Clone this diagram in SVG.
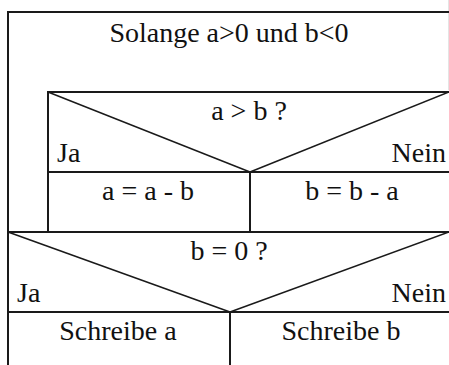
<svg xmlns="http://www.w3.org/2000/svg" width="449" height="365" viewBox="0 0 449 365">
<style>
.ln{stroke:#1a1a1a;stroke-width:2;fill:none}
.dg{stroke:#1a1a1a;stroke-width:1.5;fill:none}
text{font-family:"Liberation Serif","Times New Roman",serif;font-size:28px;fill:#111}
.c{text-anchor:middle}
.r{text-anchor:end}
</style>
<rect width="449" height="365" fill="#fff"/>
<line x1="448.5" y1="0" x2="448.5" y2="90" stroke="#e4e4e4" stroke-width="1"/>
<g id="loop">
<line class="ln" x1="7" y1="12" x2="449" y2="12"/>
<line class="ln" x1="8" y1="11" x2="8" y2="365"/>
<text class="c" x="229" y="42">Solange a&gt;0 und b&lt;0</text>
</g>
<g id="if1">
<line class="ln" x1="47" y1="92" x2="449" y2="92"/>
<line class="ln" x1="48" y1="91" x2="48" y2="232"/>
<line class="dg" x1="48" y1="92" x2="250" y2="172"/>
<line class="dg" x1="449" y1="92" x2="250" y2="172"/>
<line class="ln" x1="48" y1="172" x2="449" y2="172"/>
<text class="c" x="249" y="120">a &gt; b ?</text>
<text x="57" y="162">Ja</text>
<text class="r" x="446" y="162">Nein</text>
</g>
<g id="then1">
<text class="c" x="148" y="200">a = a - b</text>
</g>
<g id="else1">
<line class="ln" x1="250" y1="172" x2="250" y2="232"/>
<text class="c" x="352" y="200">b = b - a</text>
</g>
<g id="if2">
<line class="ln" x1="8" y1="232" x2="449" y2="232"/>
<line class="dg" x1="8" y1="232" x2="230" y2="312"/>
<line class="dg" x1="449" y1="232" x2="230" y2="312"/>
<line class="ln" x1="8" y1="312" x2="449" y2="312"/>
<text class="c" x="229" y="260">b = 0 ?</text>
<text x="17" y="302">Ja</text>
<text class="r" x="446" y="302">Nein</text>
</g>
<g id="then2">
<text class="c" x="118" y="340">Schreibe a</text>
</g>
<g id="else2">
<line class="ln" x1="230" y1="312" x2="230" y2="365"/>
<text class="c" x="341" y="340">Schreibe b</text>
</g>
</svg>
